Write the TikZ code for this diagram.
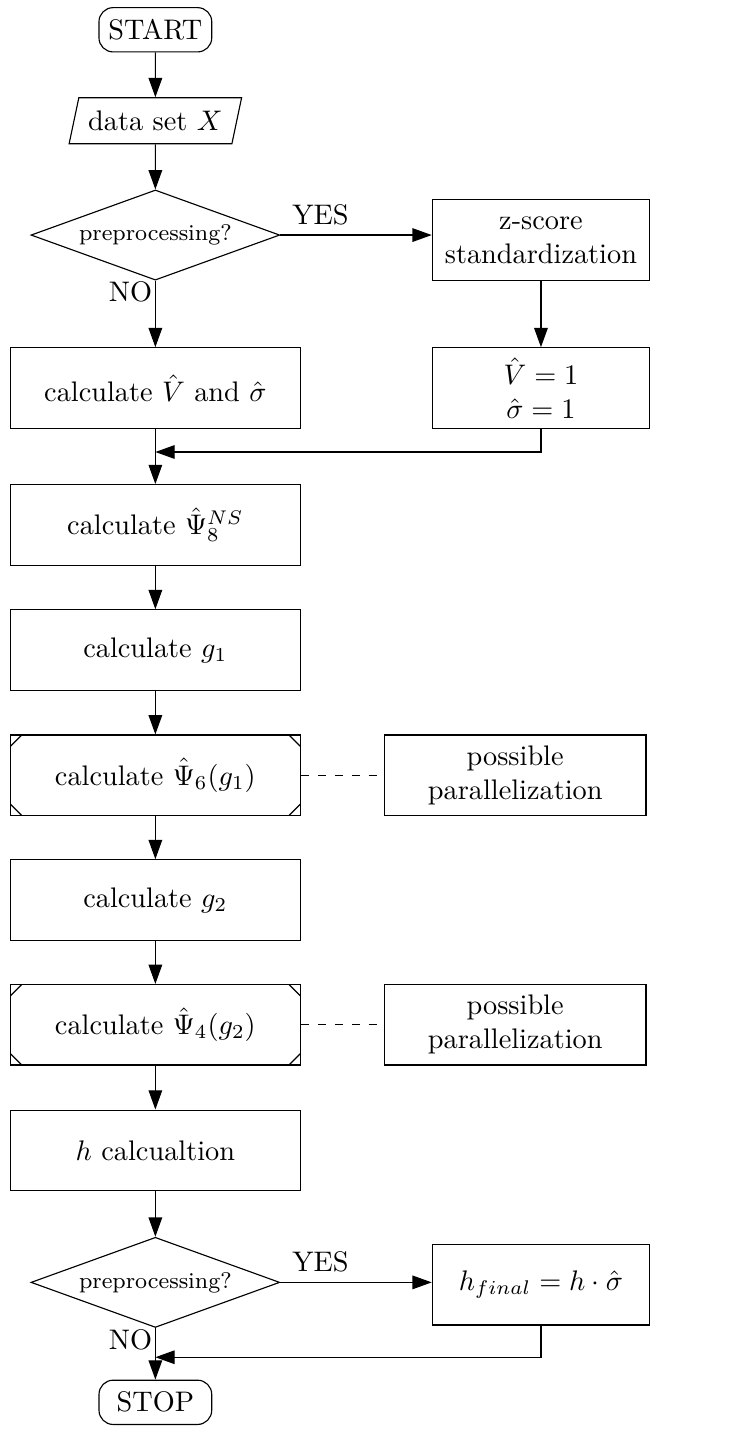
\documentclass[tikz,border=0pt]{standalone}
\usepackage{amsmath,amssymb,amsfonts}
\usetikzlibrary{arrows.meta,shapes.geometric,calc}

\tikzset{
  box/.style={draw, minimum width=3.6cm, minimum height=1cm, align=center},
  sidebox/.style={draw, minimum width=2.7cm, minimum height=1cm, align=center},
  parbox/.style={draw, minimum width=3.25cm, minimum height=1cm, align=center},
  psibox/.style={box, path picture={
      \draw (path picture bounding box.north west) ++(0,-0.14) -- ++(0.14,0.14)
            (path picture bounding box.north east) ++(-0.14,0) -- ++(0.14,-0.14)
            (path picture bounding box.south west) ++(0,0.14) -- ++(0.14,-0.14)
            (path picture bounding box.south east) ++(-0.14,0) -- ++(0.14,0.14);}},
  terminal/.style={draw, rounded corners=5pt, minimum width=1.4cm, minimum height=0.55cm},
  io/.style={draw, trapezium, trapezium left angle=76, trapezium right angle=104,
             trapezium stretches=true, minimum width=2.1cm, minimum height=0.57cm},
  decision/.style={draw, diamond, aspect=2.77, font=\footnotesize, inner sep=1pt,
                   minimum width=3.09cm, minimum height=1.12cm},
  arr/.style={-{Triangle[length=6.8pt,width=4.8pt]}}
}

\begin{document}
\begin{tikzpicture}
\useasboundingbox (0,0) rectangle (9.342,-17.851);

% main column
\node[terminal] (start) at (1.93,-0.37) {START};
\node[io] (data) at (1.93,-1.5) {data set $X$};
\node[decision] (pre1) at (1.93,-2.92) {preprocessing?};
\node[box] (calcV) at (1.93,-4.82) {calculate $\hat{V}$ and $\hat{\sigma}$};
\coordinate (m1) at (1.93,-5.615);
\node[box] (psi8) at (1.93,-6.52) {calculate $\hat{\Psi}_8^{NS}$};
\node[box] (g1) at (1.93,-8.075) {calculate $g_1$};
\node[psibox] (psi6) at (1.93,-9.63) {calculate $\hat{\Psi}_6(g_1)$};
\node[box] (g2) at (1.93,-11.18) {calculate $g_2$};
\node[psibox] (psi4) at (1.93,-12.73) {calculate $\hat{\Psi}_4(g_2)$};
\node[box] (hcalc) at (1.93,-14.29) {$h$ calcualtion};
\node[decision] (pre2) at (1.93,-15.93) {preprocessing?};
\coordinate (m2) at (1.93,-16.86);
\node[terminal] (stop) at (1.93,-17.42) {STOP};

% right column
\node[sidebox] (zscore) at (6.72,-2.98) {z-score\\standardization};
\node[sidebox] (Vone) at (6.72,-4.82) {$\hat{V} = 1$\\$\hat{\sigma} = 1$};
\node[parbox] (par1) at (6.4,-9.63) {possible\\parallelization};
\node[parbox] (par2) at (6.4,-12.73) {possible\\parallelization};
\node[sidebox] (hfin) at (6.72,-15.96) {$h_{final} = h \cdot \hat{\sigma}$};

% labels
\node (yes1) at (3.98,-2.67) {YES};
\node (no1) at (1.62,-3.63) {NO};
\node (yes2) at (3.98,-15.68) {YES};
\node (no2) at (1.62,-16.65) {NO};

% connectors
\draw[arr] (start) -- (data);
\draw[arr] (data) -- (pre1);
\draw[arr] (pre1.east) -- (pre1.east -| zscore.west);
\draw[arr] (pre1) -- (calcV);
\draw[arr] (zscore) -- (Vone);
\draw[arr] (Vone) |- (m1);
\draw[arr] (calcV) -- (psi8);
\draw[arr] (psi8) -- (g1);
\draw[arr] (g1) -- (psi6);
\draw[arr] (psi6) -- (g2);
\draw[arr] (g2) -- (psi4);
\draw[arr] (psi4) -- (hcalc);
\draw[arr] (hcalc) -- (pre2);
\draw[arr] (pre2.east) -- (pre2.east -| hfin.west);
\draw[arr] (hfin) |- (m2);
\draw[arr] (pre2) -- (stop);
\draw[dashed] (psi6) -- (par1);
\draw[dashed] (psi4) -- (par2);
\end{tikzpicture}
\end{document}
